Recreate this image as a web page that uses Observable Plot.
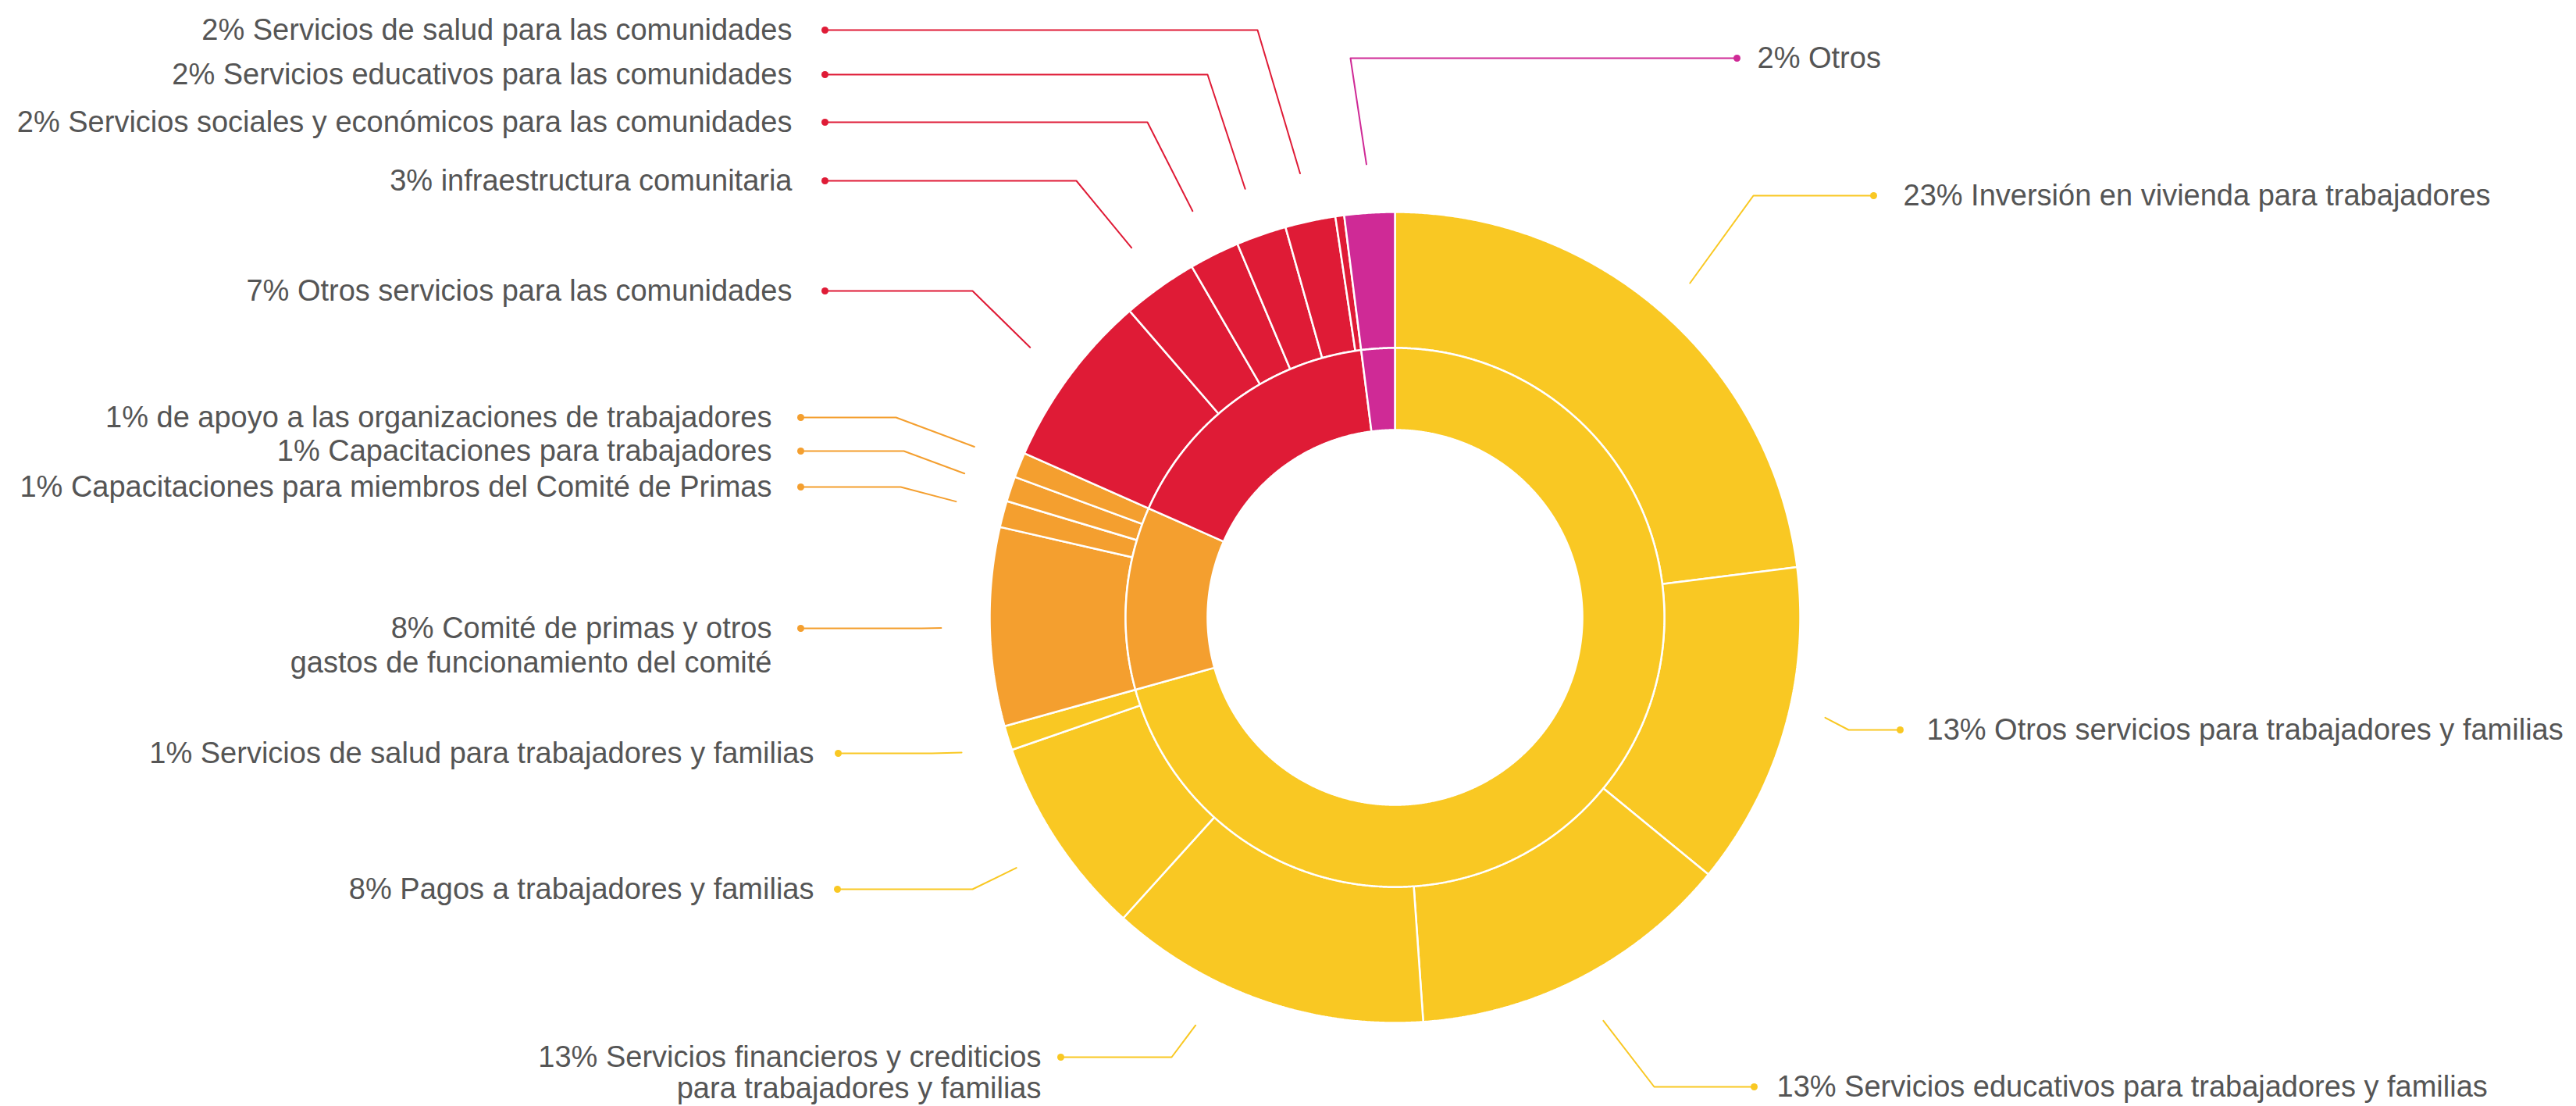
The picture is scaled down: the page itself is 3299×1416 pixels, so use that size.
<!DOCTYPE html>
<html><head><meta charset="utf-8">
<script src="https://cdn.jsdelivr.net/npm/d3@7"></script>
<script src="https://cdn.jsdelivr.net/npm/@observablehq/plot@0.6"></script>
<style>html,body{margin:0;padding:0;background:#fff;} svg{display:block}</style>
</head><body><div id="chart"></div>
<script>
// ---------- DATA ----------
const categories = ["Trabajadores y familias", "Comité de primas", "Comunidades", "Otros"];
const categoryColors = ["#F9C823", "#F49F2F", "#DF1B36", "#CF2A96"];

const subNames = [
  "Inversión en vivienda para trabajadores",
  "Otros servicios para trabajadores y familias",
  "Servicios educativos para trabajadores y familias",
  "Servicios financieros y crediticios\npara trabajadores y familias",
  "Pagos a trabajadores y familias",
  "Servicios de salud para trabajadores y familias",
  "Comité de primas y otros\ngastos de funcionamiento del comité",
  "Capacitaciones para miembros del Comité de Primas",
  "Capacitaciones para trabajadores",
  "de apoyo a las organizaciones de trabajadores",
  "Otros servicios para las comunidades",
  "infraestructura comunitaria",
  "Servicios sociales y económicos para las comunidades",
  "Servicios educativos para las comunidades",
  "Servicios de salud para las comunidades",
  "",
  "Otros"
];
const subPercents = ["23%","13%","13%","13%","8%","1%","8%","1%","1%","1%","7%","3%","2%","2%","2%","","2%"];
const subCategory = [0,0,0,0,0,0,1,1,1,1,2,2,2,2,2,2,3];
const subValues = [23.0, 12.9, 12.95, 12.8, 8.0, 0.97, 7.9, 1.05, 1.0, 1.0, 7.0, 3.0, 2.0, 2.0, 2.0, 0.35, 2.0];

// ---------- LAYOUT (label placement, px) ----------
const W = 3299, H = 1416;
const CX = 1786, CY = 790, R_OUT = 519, R_MID = 345, R_IN = 240;
const labelLayout = [
  {i: 0,  side: "R", y: 250,  dotX: 2399, textX: 2437, elbowX: 2245, rf: 1.10},
  {i: 1,  side: "R", y: 934,  dotX: 2433, textX: 2467, elbowX: 2367, rf: 1.09, shift: -3},
  {i: 2,  side: "R", y: 1391, dotX: 2246, textX: 2275, elbowX: 2118},
  {i: 3,  side: "L", y: 1353, dotX: 1358, textX: 1333, elbowX: 1500, shift: 7, gap: 40},
  {i: 4,  side: "L", y: 1138, dotX: 1072, textX: 1042, elbowX: 1245},
  {i: 5,  side: "L", y: 964,  dotX: 1073, textX: 1042, elbowX: 1193},
  {i: 6,  side: "L", y: 804,  dotX: 1025, textX: 988,  elbowX: 1180, gap: 44},
  {i: 7,  side: "L", y: 623,  dotX: 1025, textX: 988,  elbowX: 1153},
  {i: 8,  side: "L", y: 577,  dotX: 1025, textX: 988,  elbowX: 1157},
  {i: 9,  side: "L", y: 534,  dotX: 1025, textX: 988,  elbowX: 1147},
  {i: 10, side: "L", y: 372,  dotX: 1056, textX: 1014, elbowX: 1245},
  {i: 11, side: "L", y: 231,  dotX: 1056, textX: 1014, elbowX: 1378},
  {i: 12, side: "L", y: 156,  dotX: 1056, textX: 1014, elbowX: 1469},
  {i: 13, side: "L", y: 95,   dotX: 1056, textX: 1014, elbowX: 1546},
  {i: 14, side: "L", y: 38,   dotX: 1056, textX: 1014, elbowX: 1610},
  {i: 16, side: "R", y: 74,   dotX: 2224, textX: 2250, elbowX: 1729}
];
const FONT_SIZE = 38;

// ---------- GEOMETRY from data ----------
const total = d3.sum(subValues);
const toAngle = v => v / total * 2 * Math.PI;
const pt = (a, r) => ({x: CX + r * Math.sin(a), y: CY - r * Math.cos(a)});

function arcPoly(id, cat, a0, a1, r0, r1) {
  const n = Math.max(2, Math.ceil((a1 - a0) / (Math.PI / 720)));
  const pts = [];
  for (let k = 0; k <= n; k++) { const a = a0 + (a1 - a0) * k / n; pts.push({...pt(a, r1), id, cat}); }
  for (let k = n; k >= 0; k--) { const a = a0 + (a1 - a0) * k / n; pts.push({...pt(a, r0), id, cat}); }
  pts.push({...pts[0]});
  return pts;
}

// outer ring
const subAngles = [];
let acc = 0;
const outerPolys = [];
subValues.forEach((v, i) => {
  const a0 = toAngle(acc), a1 = toAngle(acc + v);
  subAngles.push([a0, a1]);
  outerPolys.push(...arcPoly("s" + i, categories[subCategory[i]], a0, a1, R_MID, R_OUT));
  acc += v;
});
// inner ring
const catValues = categories.map((c, ci) => d3.sum(subValues.filter((v, i) => subCategory[i] === ci)));
const innerPolys = [];
acc = 0;
catValues.forEach((v, ci) => {
  innerPolys.push(...arcPoly("c" + ci, categories[ci], toAngle(acc), toAngle(acc + v), R_IN, R_MID));
  acc += v;
});

// labels & leader lines
const labels = labelLayout.map(L => {
  const [a0, a1] = subAngles[L.i];
  const mid = (a0 + a1) / 2 + (L.shift || 0) * Math.PI / 180;
  const end = pt(mid, R_OUT * (L.rf || 1.12));
  return {...L, cat: categories[subCategory[L.i]], end};
});
const textRows = labels.flatMap(d => {
  const lines = (subPercents[d.i] + " " + subNames[d.i]).split("\n");
  return lines.map((t, k) => ({side: d.side, x: d.textX, y: d.y + k * (d.gap || 0), text: t}));
});
const leaderPts = labels.flatMap(d => [
  {id: d.i, cat: d.cat, x: d.dotX, y: d.y},
  {id: d.i, cat: d.cat, x: d.elbowX, y: d.y},
  {id: d.i, cat: d.cat, x: d.end.x, y: d.end.y}
]);

const chart = Plot.plot({
  width: W, height: H, margin: 0,
  style: {fontFamily: "'Liberation Sans', Arial, Helvetica, sans-serif", background: "#fff"},
  x: {domain: [0, W], range: [0, W], axis: null},
  y: {domain: [0, H], range: [0, H], axis: null},
  color: {domain: categories, range: categoryColors},
  marks: [
    Plot.line(outerPolys, {x: "x", y: "y", z: "id", fill: "cat", stroke: "white", strokeWidth: 2.5, strokeLinejoin: "miter"}),
    Plot.line(innerPolys, {x: "x", y: "y", z: "id", fill: "cat", stroke: "white", strokeWidth: 2.5, strokeLinejoin: "miter"}),
    Plot.line(leaderPts, {x: "x", y: "y", z: "id", stroke: "cat", strokeWidth: 2}),
    Plot.dot(labels, {x: "dotX", y: "y", r: 4.5, fill: "cat", stroke: null}),
    Plot.text(textRows.filter(d => d.side === "L"), {x: "x", y: "y", text: "text", textAnchor: "end", lineAnchor: "middle", fontSize: FONT_SIZE, fill: "#555"}),
    Plot.text(textRows.filter(d => d.side === "R"), {x: "x", y: "y", text: "text", textAnchor: "start", lineAnchor: "middle", fontSize: FONT_SIZE, fill: "#555"})
  ]
});
document.getElementById("chart").appendChild(chart);
</script>
</body></html>
